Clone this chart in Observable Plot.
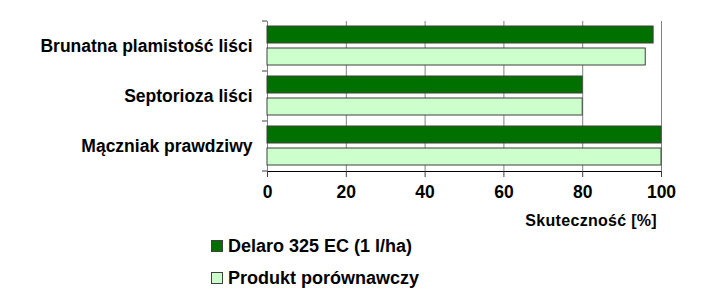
<!DOCTYPE html>
<html><head><meta charset="utf-8">
<script src="https://cdn.jsdelivr.net/npm/d3@7"></script>
<script src="https://cdn.jsdelivr.net/npm/@observablehq/plot@0.6"></script>
<style>
body{margin:0;background:#fff;font-family:"Liberation Sans",Arial,sans-serif;}
#wrap{position:relative;width:720px;height:290px;overflow:hidden;}
#chart svg{display:block}
#chart svg text{font-size:17.5px;font-weight:bold;fill:#000;}
#chart svg g[aria-label="x-axis label"] text{font-size:16px;letter-spacing:0.3px;font-weight:bold;}
.leg{position:absolute;left:211px;display:flex;align-items:center;font-weight:bold;font-size:18px;height:20px;white-space:nowrap;color:#000;}
.sw{width:10px;height:10px;border:1px solid #404040;margin-right:5px;}
</style></head><body>
<div id="wrap"><div id="chart"></div></div>
<script>
const categories = ["Brunatna plamistość liści", "Septorioza liści", "Mączniak prawdziwy"];
const series = ["Delaro 325 EC (1 l/ha)", "Produkt porównawczy"];
const delaro = [98, 80, 100];
const porownawczy = [96, 80, 100];
const xTicks = [0, 20, 40, 60, 80, 100];
const colors = ["#007000", "#ccffcc"];
const axisTitle = "Skuteczność [%]";

const data = categories.flatMap((c, i) => [
  {category: c, series: series[0], value: delaro[i]},
  {category: c, series: series[1], value: porownawczy[i]}
]);

const plot = Plot.plot({
  width: 720, height: 232,
  marginTop: 20, marginBottom: 61, marginLeft: 267, marginRight: 59,
  style: {fontFamily: "'Liberation Sans', Arial, sans-serif", fontSize: "17px", fontWeight: "bold", color: "#000", background: "#fff", overflow: "visible"},
  x: {domain: [0, 100], ticks: xTicks, tickSize: 6, tickPadding: 8, line: true, label: axisTitle, labelAnchor: "right", labelOffset: 58, labelArrow: "none"},
  y: {domain: series, axis: null, paddingInner: 0.22, paddingOuter: 0.22},
  fy: {domain: categories, padding: 0, label: null, axis: "left", tickSize: 0, tickPadding: 15},
  color: {domain: series, range: colors},
  marks: [
    Plot.ruleX(xTicks, {stroke: "#808080", strokeOpacity: 1}),
    Plot.barX(data, {x: "value", y: "series", fy: "category", fill: "series", stroke: "#404040", strokeWidth: 1})
  ]
});
document.getElementById("chart").appendChild(plot);

// left axis boundary ticks from the fy scale
const fy = plot.scale("fy");
const xs = plot.scale("x");
const x0 = xs.apply(0);
const x100 = xs.apply(100);
const bounds = categories.map(c => fy.apply(c)).concat([fy.apply(categories[categories.length - 1]) + fy.bandwidth]);
const svg = d3.select(plot);
const g = svg.append("g").attr("stroke", "#404040");
bounds.forEach(b => g.append("line").attr("x1", x0 - 5).attr("x2", x0).attr("y1", b).attr("y2", b));

svg.selectAll('[aria-label="x-axis tick"] path, [aria-label="x-axis line"]').attr("stroke", "#404040");

// place the axis title: right edge a little inside the 100 gridline
const lab = plot.querySelector('[aria-label="x-axis label"]');
if (lab) {
  const t = lab.querySelector("text");
  const r = t.getBoundingClientRect();
  const s = plot.getBoundingClientRect();
  const dx = (x100 - 4) - (r.right - s.left);
  const dy = 220 - ((r.top + r.bottom) / 2 - s.top);
  const prev = lab.getAttribute("transform") || "";
  lab.setAttribute("transform", `translate(${dx},${dy}) ${prev}`);
}

// legend (HTML, below the plot)
const wrap = document.getElementById("wrap");
series.forEach((s, i) => {
  const d = document.createElement("div");
  d.className = "leg";
  d.style.top = (236 + i * 32) + "px";
  const sw = document.createElement("span");
  sw.className = "sw";
  sw.style.background = colors[i];
  d.appendChild(sw);
  d.appendChild(document.createTextNode(s));
  wrap.appendChild(d);
});
</script>
</body></html>
